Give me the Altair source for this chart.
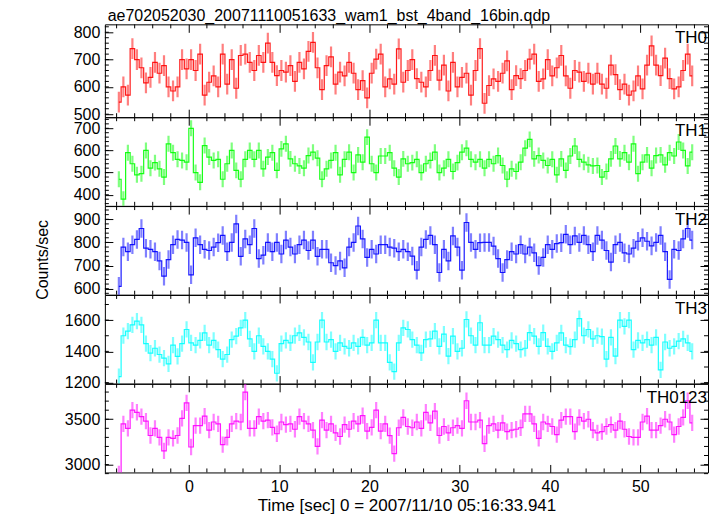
import altair as alt
import pandas as pd
import numpy as np

# ---- data (0.5 s bins) ----
T_START = -7.75
DT = 0.5

TH0 = [544,600,570,740,700,670,615,635,690,650, 678,600,585,600,700,666,700,660,720,570,
       617,640,600,720,610,700,595,715,720,690, 660,715,690,760,690,641,660,654,678,620,
       690,666,730,763,670,590,678,710,610,654, 640,690,650,590,623,560,650,702,720,600,
       629,610,739,617,660,
       700,630,617,600,660,715,625,680,585,690, 600,635,650,570,660,740,540,605,629,620,
       650,695,590,641,630,660,702,720,620,629, 700,640,670,715,640,595,660,654,620,650,
       610,650,610,595,680,645,590,610,570,585, 640,593,680,750,680,641,705,630,593,600,
       660,720,640]
TH1 = [470,380,590,540,490,495,600,520,545,517, 480,630,590,560,555,547,700,500,456,622,
       570,555,560,470,540,600,510,470,560,600, 560,600,517,570,590,510,607,630,562,540,
       530,520,577,592,565,470,517,555,590,490, 560,592,500,580,547,660,540,500,575,575,
       590,520,480,562,540,
       545,560,500,540,555,592,500,520,560,505, 545,592,610,560,547,560,520,560,540,577,
       532,470,517,505,547,610,650,562,577,555, 532,560,490,562,510,575,620,560,547,535,
       530,532,480,505,562,620,562,590,547,630, 495,547,580,520,577,580,535,590,575,638,
       600,530,592]
TH2 = [610,780,760,790,813,860,775,770,760,720, 654,726,790,813,810,800,660,820,790,770,
       765,780,799,830,760,800,880,740,815,790, 860,730,745,800,760,800,750,810,780,750,
       790,810,765,810,740,770,770,712,700,720, 690,780,800,871,815,735,770,750,790,790,
       780,775,760,770,760,
       741,680,780,813,830,790,670,770,720,828, 780,680,886,800,770,799,800,800,784,730,
       670,726,760,750,790,750,780,755,700,735, 790,770,795,799,835,790,828,800,830,790,
       760,830,810,765,715,790,800,755,750,775, 805,820,805,785,800,830,760,640,770,765,
       815,860,810]
TH3 = [1239,1500,1530,1570,1594,1570,1450,1389,1420,1380, 1357,1320,1440,1368,1450,1540,1454,1440,1470,1518,
       1440,1470,1411,1350,1380,1475,1497,1550,1600,1480, 1400,1500,1432,1400,1350,1260,1450,1470,1454,1500,
       1518,1490,1460,1330,1460,1600,1460,1475,1400,1454, 1432,1420,1454,1432,1490,1440,1454,1600,1454,1454,
       1330,1270,1454,1550,1540,
       1475,1440,1390,1475,1480,1530,1432,1510,1370,1497, 1400,1420,1604,1500,1440,1583,1440,1440,1497,1475,
       1440,1411,1470,1450,1411,1420,1520,1497,1432,1520, 1432,1400,1454,1518,1440,1430,1475,1610,1500,1540,
       1480,1500,1495,1350,1490,1370,1600,1560,1600,1411, 1470,1454,1475,1440,1490,1282,1460,1420,1432,1465,
       1480,1454,1400]
TH0123 = [2896,3449,3400,3600,3577,3530,3480,3321,3400,3300, 3151,3300,3290,3321,3510,3680,3194,3430,3430,3534,
          3380,3470,3449,3220,3300,3449,3480,3470,3800,3400, 3400,3530,3480,3490,3410,3340,3470,3440,3450,3390,
          3530,3480,3450,3380,3200,3490,3380,3450,3350,3310, 3440,3390,3480,3449,3540,3370,3410,3600,3370,3449,
          3320,3120,3406,3520,3420,
          3406,3470,3400,3577,3460,3590,3321,3420,3350,3406, 3430,3400,3704,3470,3470,3491,3230,3430,3449,3380,
          3460,3364,3380,3390,3406,3560,3560,3449,3290,3470, 3449,3420,3330,3491,3530,3530,3364,3520,3480,3500,
          3380,3350,3364,3420,3440,3380,3480,3390,3310,3300, 3300,3470,3534,3380,3380,3430,3500,3470,3330,3420,
          3520,3704,3460]

SERIES = [TH0, TH1, TH2, TH3, TH0123]
NAMES = ["TH0", "TH1", "TH2", "TH3", "TH0123"]
COLORS = ["#ff0000", "#00ff00", "#0000ff", "#00ffff", "#ff00ff"]
ERRS = [38, 36, 40, 52, 90]

Y_DOMAINS = [[489, 829], [350, 750], [574, 957], [1194, 1761], [2913, 3891]]
Y_MAJOR = [[500, 600, 700, 800], [400, 500, 600, 700], [600, 700, 800, 900],
           [1200, 1400, 1600], [3000, 3500]]
Y_MINOR = [list(range(500, 830, 20)), list(range(360, 750, 20)), list(range(580, 960, 20)),
           list(range(1200, 1761, 100)), list(range(2900, 3891, 100))]

X_DOMAIN = [-9.3, 57.5]
X_MAJOR = [0, 10, 20, 30, 40, 50]
X_MINOR = [v for v in range(-8, 57, 2) if v % 10 != 0]

TITLE = "ae702052030_20071110051633_wam1_bst_4band_16bin.qdp"
XTITLE = "Time [sec] 0 = 2007/11/10 05:16:33.941"
YTITLE = "Counts/sec"

FONT = "Liberation Sans"
W = 604
HEIGHTS = [93, 88.75, 88.75, 88.75, 88.75]
MAJ = 8
MIN = 4


def panel(i):
    vals = SERIES[i]
    H = HEIGHTS[i]
    n = len(vals)
    df = pd.DataFrame({"t": T_START + DT * np.arange(n), "v": vals})
    df["lo"] = df["v"] - ERRS[i]
    df["hi"] = df["v"] + ERRS[i]
    c = COLORS[i]
    last = i == len(SERIES) - 1

    xs = alt.Scale(domain=X_DOMAIN, nice=False, zero=False)
    ys = alt.Scale(domain=Y_DOMAINS[i], nice=False, zero=False)

    xb_kw = dict(orient="bottom", values=X_MAJOR, tickSize=MAJ, offset=-MAJ, domain=False,
                 grid=False, labels=last, labelPadding=6, format="d", minExtent=0)
    if last:
        xb_kw["titlePadding"] = 3
        xb_kw["titleFontSize"] = 17
    xaxis_b = alt.Axis(**xb_kw)
    xaxis_t = alt.Axis(orient="top", values=X_MAJOR, tickSize=MAJ, offset=-MAJ, domain=False,
                       grid=False, labels=False, minExtent=0, maxExtent=0)
    yl_kw = dict(orient="left", values=Y_MAJOR[i], tickSize=MAJ, offset=-MAJ, domain=False,
                 grid=False, labelPadding=5, format="d", minExtent=0)
    if i == 2:
        yl_kw["titlePadding"] = 23
        yl_kw["titleY"] = H / 2 + 9
    yaxis_l = alt.Axis(**yl_kw)
    yaxis_r = alt.Axis(orient="right", values=Y_MAJOR[i], tickSize=MAJ, offset=-MAJ,
                       domain=False, grid=False, labels=False, minExtent=0, maxExtent=0)

    err = alt.Chart(df).mark_rule(color=c, opacity=0.5, strokeWidth=2.2, clip=True).encode(
        x=alt.X("t:Q", scale=xs, axis=xaxis_b, title=XTITLE if last else None),
        y=alt.Y("lo:Q", scale=ys, axis=yaxis_l, title=YTITLE if i == 2 else None),
        y2="hi:Q",
    )
    line = alt.Chart(df).mark_line(interpolate="step", color=c, strokeWidth=1.2,
                                   opacity=0.9, clip=True).encode(
        x=alt.X("t:Q", scale=xs, axis=xaxis_t, title=None),
        y=alt.Y("v:Q", scale=ys, axis=yaxis_r, title=None),
    )

    xm = pd.DataFrame({"t": X_MINOR})
    xmin_b = alt.Chart(xm).mark_rule(color="black").encode(
        x=alt.X("t:Q", scale=xs, axis=None), y=alt.value(H), y2=alt.value(H - MIN))
    xmin_t = alt.Chart(xm).mark_rule(color="black").encode(
        x=alt.X("t:Q", scale=xs, axis=None), y=alt.value(0), y2=alt.value(MIN))
    ym = pd.DataFrame({"v": Y_MINOR[i]})
    ymin_l = alt.Chart(ym).mark_rule(color="black").encode(
        y=alt.Y("v:Q", scale=ys, axis=None), x=alt.value(0), x2=alt.value(MIN))
    ymin_r = alt.Chart(ym).mark_rule(color="black").encode(
        y=alt.Y("v:Q", scale=ys, axis=None), x=alt.value(W - MIN), x2=alt.value(W))

    lab = alt.Chart(pd.DataFrame({"name": [NAMES[i]]})).mark_text(
        align="right", baseline="top", font=FONT, fontSize=17, color="black").encode(
        text="name:N", x=alt.value(W - 1), y=alt.value(6))

    return alt.layer(err, line, xmin_b, xmin_t, ymin_l, ymin_r, lab).resolve_axis(
        x="independent", y="independent").properties(width=W, height=H)


chart = alt.vconcat(*[panel(i) for i in range(len(SERIES))], spacing=0, bounds="flush").properties(
    title=alt.TitleParams(TITLE, anchor="start", font=FONT, fontSize=16, fontWeight="normal",
                          color="black", offset=-1, dx=74),
    padding={"left": 25, "top": 0, "right": 0, "bottom": 0},
).configure_view(stroke="black", strokeWidth=1).configure_axis(
    labelFont=FONT, labelFontSize=16, labelColor="black", tickColor="black", tickWidth=1,
    titleFont=FONT, titleFontSize=16, titleFontWeight="normal", titleColor="black",
).configure_title(anchor="start")

chart.save("out.html", embed_options={"renderer": "svg", "actions": False})
